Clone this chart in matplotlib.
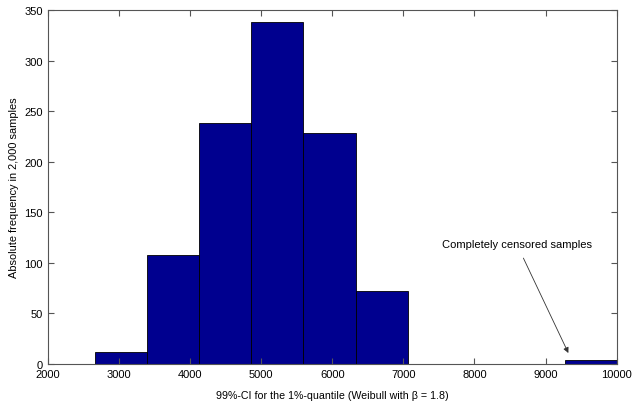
import matplotlib
matplotlib.use("Agg")
import matplotlib.pyplot as plt
import numpy as np

# histogram bins (10 equal bins from ~2660 to 10000) and counts
bin_edges = np.linspace(2660, 10000, 11)
counts = [12, 108, 238, 338, 228, 72, 0, 0, 0, 4]

plt.rcParams['font.family'] = ['Liberation Sans', 'DejaVu Sans']

fig = plt.figure(figsize=(6.33, 4.06), dpi=100)
ax = fig.add_axes([0.0754, 0.1017, 0.8989, 0.8705])

widths = np.diff(bin_edges)
ax.bar(bin_edges[:-1], counts, width=widths, align='edge',
       color='#00008f', edgecolor='black', linewidth=0.6)

ax.set_xlim(2000, 10000)
ax.set_ylim(0, 350)
ax.set_xticks(np.arange(2000, 10001, 1000))
ax.set_yticks(np.arange(0, 351, 50))
ax.tick_params(direction='in', top=True, right=True, length=4,
               labelsize=8, color='#555555', width=0.8)
for s in ax.spines.values():
    s.set_color('#555555')
    s.set_linewidth(0.8)

ax.set_xlabel('99%-CI for the 1%-quantile (Weibull with β = 1.8)', fontsize=7.7,
              labelpad=8)
ax.set_ylabel('Absolute frequency in 2,000 samples', fontsize=7.9)

ax.annotate('Completely censored samples', xy=(9320, 10.6), xytext=(8594, 118.5),
            ha='center', va='center', fontsize=8,
            arrowprops=dict(arrowstyle='-|>', color='#333333', lw=0.6,
                            shrinkA=5, shrinkB=0, mutation_scale=8))

fig.savefig('out.png', dpi=100)
